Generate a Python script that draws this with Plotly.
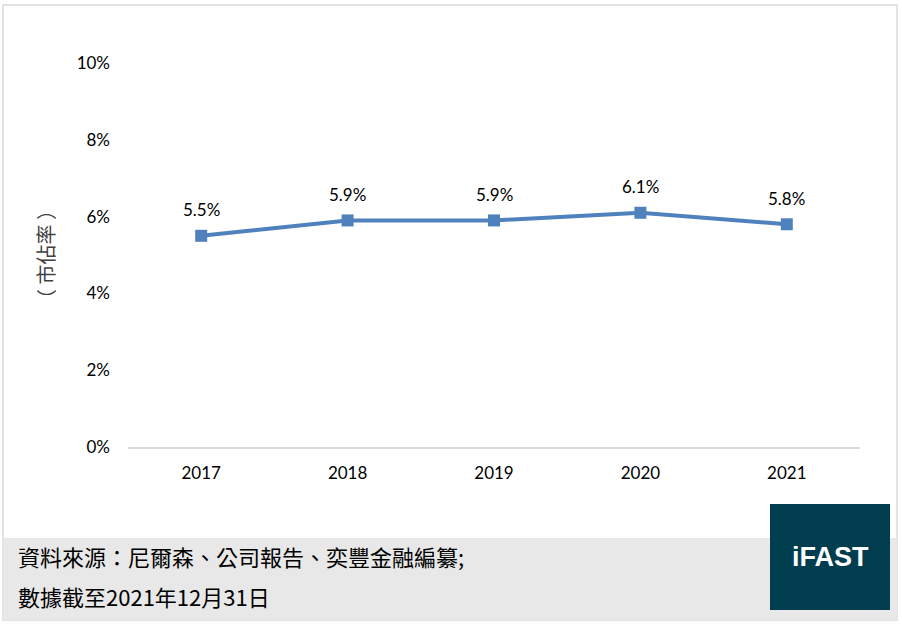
import plotly.graph_objects as go

years = ["2017", "2018", "2019", "2020", "2021"]
share = [5.5, 5.9, 5.9, 6.1, 5.8]
labels = ["5.5%", "5.9%", "5.9%", "6.1%", "5.8%"]
yticks = [0, 2, 4, 6, 8, 10]
yticktext = ["0%", "2%", "4%", "6%", "8%", "10%"]

source_line1 = "資料來源：尼爾森、公司報告、奕豐金融編纂;"
source_line2 = "數據截至2021年12月31日"

W, H = 902, 627
L, R, T, B = 128, 42, 63, 180
pw, ph = W - L - R, H - T - B


def px(x):
    return (x - L) / pw


def py(y):
    return (H - B - y) / ph


fig = go.Figure()
fig.add_trace(go.Scatter(
    x=years, y=share,
    mode="lines+markers",
    line=dict(color="#4f81bd", width=4),
    marker=dict(symbol="square", size=12, color="#4f81bd"),
    hoverinfo="skip",
    showlegend=False,
))

annotations = []
# category axis: place the labels by category index
for i, (y, t) in enumerate(zip(share, labels)):
    annotations.append(dict(
        x=i, y=y, text=t, showarrow=False, yshift=26,
        font=dict(family="Lato", size=17, color="#000000"),
    ))

annotations += [
    dict(x=px(45), y=0.5, xref="paper", yref="paper", text="（ 市佔率 ）",
         xanchor="center", yanchor="middle",
         textangle=-90, showarrow=False,
         font=dict(family="Noto Sans CJK TC", size=20, color="#404040")),
    dict(x=px(16), y=py(556), xref="paper", yref="paper",
         xanchor="left", yanchor="middle",
         text=source_line1, showarrow=False,
         font=dict(family="Noto Sans CJK TC", size=22, color="#000000")),
    dict(x=px(16), y=py(596), xref="paper", yref="paper",
         xanchor="left", yanchor="middle",
         text=source_line2, showarrow=False,
         font=dict(family="Noto Sans CJK TC", size=22, color="#000000")),
    dict(x=px(830), y=py(557), xref="paper", yref="paper",
         xanchor="center", yanchor="middle",
         text="<b>iFAST</b>", showarrow=False,
         font=dict(family="Liberation Sans", size=27, color="#ffffff")),
]

shapes = [
    # outer frame
    dict(type="rect", xref="paper", yref="paper", layer="below",
         x0=px(3), x1=px(897), y0=py(5), y1=py(620),
         line=dict(color="#e3e3e3", width=2), fillcolor="#ffffff"),
    # footer band
    dict(type="rect", xref="paper", yref="paper", layer="below",
         x0=px(3), x1=px(897), y0=py(538), y1=py(620),
         line=dict(width=0), fillcolor="#e8e8e8"),
    # logo box
    dict(type="rect", xref="paper", yref="paper", layer="above",
         x0=px(770), x1=px(890), y0=py(504), y1=py(610),
         line=dict(width=0), fillcolor="#003d4f"),
]

fig.update_layout(
    width=W, height=H,
    margin=dict(l=L, r=R, t=T, b=B),
    paper_bgcolor="#ffffff",
    plot_bgcolor="rgba(0,0,0,0)",
    annotations=annotations,
    shapes=shapes,
    xaxis=dict(
        type="category", range=[-0.5, 4.5],
        showgrid=False, zeroline=False,
        showline=True, linecolor="#d9d9d9", linewidth=1.5,
        ticks="", ticklabelstandoff=10,
        tickfont=dict(family="Lato", size=17, color="#000000"),
    ),
    yaxis=dict(
        range=[0, 10], tickvals=yticks, ticktext=yticktext,
        showgrid=False, zeroline=False, showline=False,
        ticks="", ticklabelstandoff=17,
        tickfont=dict(family="Lato", size=17, color="#000000"),
    ),
)

fig.write_html(
    "out.html",
    config={"displayModeBar": False},
    post_script="document.body.style.margin='0';document.body.style.overflow='hidden';",
)
